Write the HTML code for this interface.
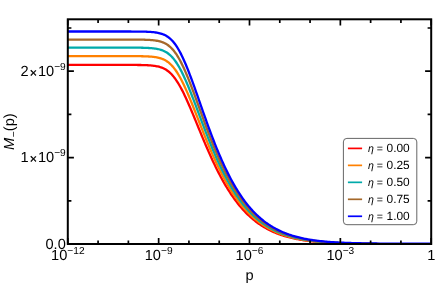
<!DOCTYPE html>
<html><head><meta charset="utf-8"><title>plot</title>
<style>
html,body{margin:0;padding:0;background:#fff;}
svg{display:block;font-family:"Liberation Sans",sans-serif;will-change:transform;text-rendering:geometricPrecision;}
</style></head><body>
<svg width="436" height="284" viewBox="0 0 436 284">
<rect width="436" height="284" fill="#fff"/>
<clipPath id="c"><rect x="67.8" y="19.3" width="363.4" height="224.7"/></clipPath>
<g clip-path="url(#c)" fill="none" stroke-width="2.3" stroke-linejoin="round">
<path d="M67.8,64.90 L68.8,64.90 L69.8,64.90 L70.8,64.90 L71.8,64.90 L72.8,64.90 L73.8,64.90 L74.8,64.90 L75.8,64.90 L76.8,64.90 L77.8,64.90 L78.8,64.90 L79.8,64.90 L80.8,64.90 L81.8,64.90 L82.8,64.90 L83.8,64.90 L84.8,64.90 L85.8,64.90 L86.8,64.90 L87.8,64.90 L88.8,64.90 L89.8,64.90 L90.8,64.90 L91.8,64.90 L92.8,64.90 L93.8,64.90 L94.8,64.90 L95.8,64.90 L96.8,64.90 L97.8,64.90 L98.8,64.90 L99.8,64.90 L100.8,64.90 L101.8,64.90 L102.8,64.90 L103.8,64.90 L104.8,64.90 L105.8,64.90 L106.8,64.90 L107.8,64.90 L108.8,64.90 L109.8,64.90 L110.8,64.90 L111.8,64.90 L112.8,64.90 L113.8,64.90 L114.8,64.90 L115.8,64.90 L116.8,64.90 L117.8,64.90 L118.8,64.90 L119.8,64.91 L120.8,64.91 L121.8,64.91 L122.8,64.91 L123.8,64.91 L124.8,64.91 L125.8,64.91 L126.8,64.91 L127.8,64.92 L128.8,64.92 L129.8,64.92 L130.8,64.93 L131.8,64.93 L132.8,64.94 L133.8,64.94 L134.8,64.95 L135.8,64.96 L136.8,64.97 L137.8,64.98 L138.8,64.99 L139.8,65.01 L140.8,65.02 L141.8,65.05 L142.8,65.07 L143.8,65.10 L144.8,65.13 L145.8,65.17 L146.8,65.21 L147.8,65.26 L148.8,65.32 L149.8,65.38 L150.8,65.46 L151.8,65.55 L152.8,65.66 L153.8,65.78 L154.8,65.91 L155.8,66.07 L156.8,66.26 L157.8,66.47 L158.8,66.71 L159.8,66.98 L160.8,67.29 L161.8,67.65 L162.8,68.05 L163.8,68.51 L164.8,69.02 L165.8,69.59 L166.8,70.23 L167.8,70.94 L168.8,71.72 L169.8,72.59 L170.8,73.53 L171.8,74.56 L172.8,75.68 L173.8,76.89 L174.8,78.18 L175.8,79.57 L176.8,81.04 L177.8,82.60 L178.8,84.24 L179.8,85.97 L180.8,87.77 L181.8,89.65 L182.8,91.59 L183.8,93.61 L184.8,95.68 L185.8,97.81 L186.8,100.00 L187.8,102.22 L188.8,104.49 L189.8,106.80 L190.8,109.14 L191.8,111.50 L192.8,113.89 L193.8,116.30 L194.8,118.72 L195.8,121.14 L196.8,123.58 L197.8,126.02 L198.8,128.45 L199.8,130.88 L200.8,133.30 L201.8,135.72 L202.8,138.11 L203.8,140.50 L204.8,142.86 L205.8,145.21 L206.8,147.53 L207.8,149.83 L208.8,152.10 L209.8,154.34 L210.8,156.56 L211.8,158.75 L212.8,160.90 L213.8,163.03 L214.8,165.12 L215.8,167.17 L216.8,169.20 L217.8,171.18 L218.8,173.14 L219.8,175.06 L220.8,176.94 L221.8,178.78 L222.8,180.59 L223.8,182.37 L224.8,184.10 L225.8,185.80 L226.8,187.47 L227.8,189.10 L228.8,190.69 L229.8,192.24 L230.8,193.76 L231.8,195.25 L232.8,196.70 L233.8,198.12 L234.8,199.50 L235.8,200.85 L236.8,202.16 L237.8,203.45 L238.8,204.70 L239.8,205.92 L240.8,207.10 L241.8,208.26 L242.8,209.38 L243.8,210.48 L244.8,211.55 L245.8,212.58 L246.8,213.59 L247.8,214.57 L248.8,215.53 L249.8,216.45 L250.8,217.36 L251.8,218.23 L252.8,219.08 L253.8,219.91 L254.8,220.71 L255.8,221.49 L256.8,222.25 L257.8,222.98 L258.8,223.69 L259.8,224.38 L260.8,225.05 L261.8,225.70 L262.8,226.33 L263.8,226.94 L264.8,227.53 L265.8,228.10 L266.8,228.66 L267.8,229.20 L268.8,229.72 L269.8,230.22 L270.8,230.71 L271.8,231.18 L272.8,231.64 L273.8,232.09 L274.8,232.51 L275.8,232.93 L276.8,233.33 L277.8,233.72 L278.8,234.09 L279.8,234.46 L280.8,234.81 L281.8,235.14 L282.8,235.47 L283.8,235.79 L284.8,236.09 L285.8,236.39 L286.8,236.67 L287.8,236.95 L288.8,237.22 L289.8,237.47 L290.8,237.72 L291.8,237.96 L292.8,238.19 L293.8,238.41 L294.8,238.63 L295.8,238.84 L296.8,239.04 L297.8,239.23 L298.8,239.42 L299.8,239.59 L300.8,239.77 L301.8,239.94 L302.8,240.10 L303.8,240.26 L304.8,240.41 L305.8,240.56 L306.8,240.70 L307.8,240.84 L308.8,240.97 L309.8,241.10 L310.8,241.22 L311.8,241.34 L312.8,241.45 L313.8,241.56 L314.8,241.67 L315.8,241.77 L316.8,241.87 L317.8,241.96 L318.8,242.05 L319.8,242.14 L320.8,242.22 L321.8,242.30 L322.8,242.38 L323.8,242.46 L324.8,242.53 L325.8,242.60 L326.8,242.67 L327.8,242.73 L328.8,242.79 L329.8,242.85 L330.8,242.91 L331.8,242.97 L332.8,243.02 L333.8,243.07 L334.8,243.12 L335.8,243.17 L336.8,243.21 L337.8,243.26 L338.8,243.30 L339.8,243.34 L340.8,243.38 L341.8,243.42 L342.8,243.45 L343.8,243.49 L344.8,243.52 L345.8,243.56 L346.8,243.59 L347.8,243.62 L348.8,243.65 L349.8,243.67 L350.8,243.70 L351.8,243.73 L352.8,243.75 L353.8,243.77 L354.8,243.80 L355.8,243.82 L356.8,243.84 L357.8,243.86 L358.8,243.88 L359.8,243.90 L360.8,243.92 L361.8,243.93 L362.8,243.94 L363.8,243.96 L364.8,243.97 L365.8,243.98 L366.8,243.99 L367.8,244.00 L368.8,244.01 L369.8,244.02 L370.8,244.03 L371.8,244.04 L372.8,244.05 L373.8,244.06 L374.8,244.07 L375.8,244.07 L376.8,244.08 L377.8,244.09 L378.8,244.09 L379.8,244.10 L380.8,244.11 L381.8,244.11 L382.8,244.12 L383.8,244.12 L384.8,244.13 L385.8,244.13 L386.8,244.13 L387.8,244.14 L388.8,244.14 L389.8,244.15 L390.8,244.15 L391.8,244.15 L392.8,244.16 L393.8,244.16 L394.8,244.16 L395.8,244.16 L396.8,244.17 L397.8,244.17 L398.8,244.17 L399.8,244.17 L400.8,244.18 L401.8,244.18 L402.8,244.18 L403.8,244.18 L404.8,244.18 L405.8,244.18 L406.8,244.19 L407.8,244.19 L408.8,244.19 L409.8,244.19 L410.8,244.19 L411.8,244.19 L412.8,244.19 L413.8,244.19 L414.8,244.19 L415.8,244.20 L416.8,244.20 L417.8,244.20 L418.8,244.20 L419.8,244.20 L420.8,244.20 L421.8,244.20 L422.8,244.20 L423.8,244.20 L424.8,244.20 L425.8,244.20 L426.8,244.20 L427.8,244.20 L428.8,244.20 L429.8,244.20 L430.8,244.20" stroke="#ff0000"/>
<path d="M67.8,56.10 L68.8,56.10 L69.8,56.10 L70.8,56.10 L71.8,56.10 L72.8,56.10 L73.8,56.10 L74.8,56.10 L75.8,56.10 L76.8,56.10 L77.8,56.10 L78.8,56.10 L79.8,56.10 L80.8,56.10 L81.8,56.10 L82.8,56.10 L83.8,56.10 L84.8,56.10 L85.8,56.10 L86.8,56.10 L87.8,56.10 L88.8,56.10 L89.8,56.10 L90.8,56.10 L91.8,56.10 L92.8,56.10 L93.8,56.10 L94.8,56.10 L95.8,56.10 L96.8,56.10 L97.8,56.10 L98.8,56.10 L99.8,56.10 L100.8,56.10 L101.8,56.10 L102.8,56.10 L103.8,56.10 L104.8,56.10 L105.8,56.10 L106.8,56.10 L107.8,56.10 L108.8,56.10 L109.8,56.10 L110.8,56.10 L111.8,56.10 L112.8,56.10 L113.8,56.10 L114.8,56.10 L115.8,56.10 L116.8,56.10 L117.8,56.10 L118.8,56.10 L119.8,56.10 L120.8,56.11 L121.8,56.11 L122.8,56.11 L123.8,56.11 L124.8,56.11 L125.8,56.11 L126.8,56.11 L127.8,56.12 L128.8,56.12 L129.8,56.12 L130.8,56.13 L131.8,56.13 L132.8,56.14 L133.8,56.14 L134.8,56.15 L135.8,56.16 L136.8,56.16 L137.8,56.18 L138.8,56.19 L139.8,56.20 L140.8,56.22 L141.8,56.24 L142.8,56.26 L143.8,56.29 L144.8,56.32 L145.8,56.35 L146.8,56.39 L147.8,56.44 L148.8,56.50 L149.8,56.56 L150.8,56.63 L151.8,56.72 L152.8,56.82 L153.8,56.93 L154.8,57.07 L155.8,57.22 L156.8,57.39 L157.8,57.60 L158.8,57.83 L159.8,58.09 L160.8,58.39 L161.8,58.74 L162.8,59.12 L163.8,59.57 L164.8,60.06 L165.8,60.62 L166.8,61.24 L167.8,61.94 L168.8,62.71 L169.8,63.56 L170.8,64.49 L171.8,65.51 L172.8,66.63 L173.8,67.83 L174.8,69.12 L175.8,70.51 L176.8,71.99 L177.8,73.57 L178.8,75.23 L179.8,76.98 L180.8,78.81 L181.8,80.73 L182.8,82.72 L183.8,84.78 L184.8,86.91 L185.8,89.11 L186.8,91.35 L187.8,93.66 L188.8,96.00 L189.8,98.39 L190.8,100.82 L191.8,103.27 L192.8,105.76 L193.8,108.26 L194.8,110.79 L195.8,113.32 L196.8,115.87 L197.8,118.41 L198.8,120.96 L199.8,123.51 L200.8,126.05 L201.8,128.58 L202.8,131.10 L203.8,133.61 L204.8,136.10 L205.8,138.56 L206.8,141.01 L207.8,143.43 L208.8,145.83 L209.8,148.20 L210.8,150.54 L211.8,152.85 L212.8,155.12 L213.8,157.37 L214.8,159.58 L215.8,161.76 L216.8,163.90 L217.8,166.01 L218.8,168.08 L219.8,170.11 L220.8,172.11 L221.8,174.07 L222.8,175.99 L223.8,177.87 L224.8,179.71 L225.8,181.52 L226.8,183.29 L227.8,185.02 L228.8,186.72 L229.8,188.37 L230.8,189.99 L231.8,191.57 L232.8,193.12 L233.8,194.63 L234.8,196.10 L235.8,197.54 L236.8,198.94 L237.8,200.31 L238.8,201.65 L239.8,202.95 L240.8,204.21 L241.8,205.45 L242.8,206.65 L243.8,207.82 L244.8,208.96 L245.8,210.07 L246.8,211.15 L247.8,212.20 L248.8,213.22 L249.8,214.21 L250.8,215.18 L251.8,216.12 L252.8,217.03 L253.8,217.92 L254.8,218.78 L255.8,219.61 L256.8,220.42 L257.8,221.21 L258.8,221.97 L259.8,222.72 L260.8,223.44 L261.8,224.13 L262.8,224.81 L263.8,225.47 L264.8,226.10 L265.8,226.72 L266.8,227.32 L267.8,227.90 L268.8,228.46 L269.8,229.00 L270.8,229.53 L271.8,230.04 L272.8,230.53 L273.8,231.01 L274.8,231.47 L275.8,231.92 L276.8,232.35 L277.8,232.77 L278.8,233.17 L279.8,233.57 L280.8,233.94 L281.8,234.31 L282.8,234.67 L283.8,235.01 L284.8,235.34 L285.8,235.66 L286.8,235.97 L287.8,236.27 L288.8,236.55 L289.8,236.83 L290.8,237.10 L291.8,237.36 L292.8,237.61 L293.8,237.85 L294.8,238.09 L295.8,238.31 L296.8,238.53 L297.8,238.74 L298.8,238.94 L299.8,239.14 L300.8,239.33 L301.8,239.51 L302.8,239.69 L303.8,239.86 L304.8,240.03 L305.8,240.19 L306.8,240.34 L307.8,240.49 L308.8,240.64 L309.8,240.78 L310.8,240.91 L311.8,241.04 L312.8,241.16 L313.8,241.28 L314.8,241.40 L315.8,241.51 L316.8,241.62 L317.8,241.72 L318.8,241.82 L319.8,241.91 L320.8,242.01 L321.8,242.09 L322.8,242.18 L323.8,242.26 L324.8,242.34 L325.8,242.42 L326.8,242.49 L327.8,242.56 L328.8,242.63 L329.8,242.70 L330.8,242.76 L331.8,242.82 L332.8,242.88 L333.8,242.94 L334.8,242.99 L335.8,243.04 L336.8,243.09 L337.8,243.14 L338.8,243.19 L339.8,243.23 L340.8,243.28 L341.8,243.32 L342.8,243.36 L343.8,243.40 L344.8,243.43 L345.8,243.47 L346.8,243.50 L347.8,243.54 L348.8,243.57 L349.8,243.60 L350.8,243.63 L351.8,243.66 L352.8,243.68 L353.8,243.71 L354.8,243.74 L355.8,243.76 L356.8,243.78 L357.8,243.81 L358.8,243.83 L359.8,243.85 L360.8,243.87 L361.8,243.88 L362.8,243.90 L363.8,243.91 L364.8,243.93 L365.8,243.94 L366.8,243.95 L367.8,243.97 L368.8,243.98 L369.8,243.99 L370.8,244.00 L371.8,244.01 L372.8,244.02 L373.8,244.03 L374.8,244.04 L375.8,244.05 L376.8,244.06 L377.8,244.06 L378.8,244.07 L379.8,244.08 L380.8,244.08 L381.8,244.09 L382.8,244.10 L383.8,244.10 L384.8,244.11 L385.8,244.11 L386.8,244.12 L387.8,244.12 L388.8,244.13 L389.8,244.13 L390.8,244.14 L391.8,244.14 L392.8,244.14 L393.8,244.15 L394.8,244.15 L395.8,244.15 L396.8,244.16 L397.8,244.16 L398.8,244.16 L399.8,244.16 L400.8,244.17 L401.8,244.17 L402.8,244.17 L403.8,244.17 L404.8,244.18 L405.8,244.18 L406.8,244.18 L407.8,244.18 L408.8,244.18 L409.8,244.18 L410.8,244.19 L411.8,244.19 L412.8,244.19 L413.8,244.19 L414.8,244.19 L415.8,244.19 L416.8,244.19 L417.8,244.19 L418.8,244.19 L419.8,244.19 L420.8,244.20 L421.8,244.20 L422.8,244.20 L423.8,244.20 L424.8,244.20 L425.8,244.20 L426.8,244.20 L427.8,244.20 L428.8,244.20 L429.8,244.20 L430.8,244.20" stroke="#ff8000"/>
<path d="M67.8,47.60 L68.8,47.60 L69.8,47.60 L70.8,47.60 L71.8,47.60 L72.8,47.60 L73.8,47.60 L74.8,47.60 L75.8,47.60 L76.8,47.60 L77.8,47.60 L78.8,47.60 L79.8,47.60 L80.8,47.60 L81.8,47.60 L82.8,47.60 L83.8,47.60 L84.8,47.60 L85.8,47.60 L86.8,47.60 L87.8,47.60 L88.8,47.60 L89.8,47.60 L90.8,47.60 L91.8,47.60 L92.8,47.60 L93.8,47.60 L94.8,47.60 L95.8,47.60 L96.8,47.60 L97.8,47.60 L98.8,47.60 L99.8,47.60 L100.8,47.60 L101.8,47.60 L102.8,47.60 L103.8,47.60 L104.8,47.60 L105.8,47.60 L106.8,47.60 L107.8,47.60 L108.8,47.60 L109.8,47.60 L110.8,47.60 L111.8,47.60 L112.8,47.60 L113.8,47.60 L114.8,47.60 L115.8,47.60 L116.8,47.60 L117.8,47.60 L118.8,47.60 L119.8,47.60 L120.8,47.61 L121.8,47.61 L122.8,47.61 L123.8,47.61 L124.8,47.61 L125.8,47.61 L126.8,47.61 L127.8,47.62 L128.8,47.62 L129.8,47.62 L130.8,47.62 L131.8,47.63 L132.8,47.63 L133.8,47.64 L134.8,47.65 L135.8,47.65 L136.8,47.66 L137.8,47.67 L138.8,47.68 L139.8,47.70 L140.8,47.71 L141.8,47.73 L142.8,47.75 L143.8,47.78 L144.8,47.81 L145.8,47.84 L146.8,47.88 L147.8,47.93 L148.8,47.98 L149.8,48.04 L150.8,48.11 L151.8,48.19 L152.8,48.29 L153.8,48.40 L154.8,48.52 L155.8,48.67 L156.8,48.84 L157.8,49.03 L158.8,49.25 L159.8,49.51 L160.8,49.80 L161.8,50.13 L162.8,50.51 L163.8,50.94 L164.8,51.42 L165.8,51.96 L166.8,52.57 L167.8,53.25 L168.8,54.01 L169.8,54.84 L170.8,55.77 L171.8,56.78 L172.8,57.88 L173.8,59.08 L174.8,60.37 L175.8,61.76 L176.8,63.25 L177.8,64.83 L178.8,66.51 L179.8,68.28 L180.8,70.14 L181.8,72.09 L182.8,74.12 L183.8,76.22 L184.8,78.40 L185.8,80.65 L186.8,82.96 L187.8,85.33 L188.8,87.75 L189.8,90.21 L190.8,92.72 L191.8,95.26 L192.8,97.83 L193.8,100.43 L194.8,103.05 L195.8,105.69 L196.8,108.34 L197.8,110.99 L198.8,113.65 L199.8,116.31 L200.8,118.96 L201.8,121.61 L202.8,124.24 L203.8,126.86 L204.8,129.47 L205.8,132.05 L206.8,134.62 L207.8,137.16 L208.8,139.68 L209.8,142.16 L210.8,144.62 L211.8,147.05 L212.8,149.45 L213.8,151.81 L214.8,154.14 L215.8,156.43 L216.8,158.69 L217.8,160.91 L218.8,163.09 L219.8,165.24 L220.8,167.35 L221.8,169.41 L222.8,171.44 L223.8,173.43 L224.8,175.38 L225.8,177.29 L226.8,179.17 L227.8,181.00 L228.8,182.79 L229.8,184.54 L230.8,186.26 L231.8,187.93 L232.8,189.57 L233.8,191.17 L234.8,192.73 L235.8,194.26 L236.8,195.75 L237.8,197.20 L238.8,198.62 L239.8,200.00 L240.8,201.34 L241.8,202.66 L242.8,203.93 L243.8,205.18 L244.8,206.39 L245.8,207.57 L246.8,208.72 L247.8,209.84 L248.8,210.93 L249.8,211.98 L250.8,213.01 L251.8,214.01 L252.8,214.98 L253.8,215.93 L254.8,216.84 L255.8,217.74 L256.8,218.60 L257.8,219.44 L258.8,220.26 L259.8,221.05 L260.8,221.82 L261.8,222.56 L262.8,223.29 L263.8,223.99 L264.8,224.67 L265.8,225.33 L266.8,225.97 L267.8,226.59 L268.8,227.19 L269.8,227.77 L270.8,228.33 L271.8,228.88 L272.8,229.41 L273.8,229.92 L274.8,230.42 L275.8,230.90 L276.8,231.36 L277.8,231.81 L278.8,232.25 L279.8,232.67 L280.8,233.07 L281.8,233.47 L282.8,233.85 L283.8,234.22 L284.8,234.57 L285.8,234.92 L286.8,235.25 L287.8,235.57 L288.8,235.88 L289.8,236.18 L290.8,236.47 L291.8,236.75 L292.8,237.02 L293.8,237.28 L294.8,237.54 L295.8,237.78 L296.8,238.02 L297.8,238.24 L298.8,238.46 L299.8,238.67 L300.8,238.88 L301.8,239.08 L302.8,239.27 L303.8,239.46 L304.8,239.64 L305.8,239.81 L306.8,239.98 L307.8,240.14 L308.8,240.29 L309.8,240.44 L310.8,240.59 L311.8,240.73 L312.8,240.86 L313.8,240.99 L314.8,241.12 L315.8,241.24 L316.8,241.36 L317.8,241.47 L318.8,241.58 L319.8,241.68 L320.8,241.78 L321.8,241.88 L322.8,241.97 L323.8,242.06 L324.8,242.15 L325.8,242.23 L326.8,242.31 L327.8,242.39 L328.8,242.46 L329.8,242.53 L330.8,242.60 L331.8,242.67 L332.8,242.73 L333.8,242.79 L334.8,242.85 L335.8,242.91 L336.8,242.97 L337.8,243.02 L338.8,243.07 L339.8,243.12 L340.8,243.17 L341.8,243.21 L342.8,243.26 L343.8,243.30 L344.8,243.34 L345.8,243.38 L346.8,243.42 L347.8,243.45 L348.8,243.49 L349.8,243.52 L350.8,243.55 L351.8,243.58 L352.8,243.61 L353.8,243.64 L354.8,243.67 L355.8,243.70 L356.8,243.72 L357.8,243.75 L358.8,243.77 L359.8,243.80 L360.8,243.82 L361.8,243.83 L362.8,243.85 L363.8,243.87 L364.8,243.88 L365.8,243.90 L366.8,243.91 L367.8,243.93 L368.8,243.94 L369.8,243.95 L370.8,243.97 L371.8,243.98 L372.8,243.99 L373.8,244.00 L374.8,244.01 L375.8,244.02 L376.8,244.03 L377.8,244.04 L378.8,244.04 L379.8,244.05 L380.8,244.06 L381.8,244.07 L382.8,244.07 L383.8,244.08 L384.8,244.09 L385.8,244.09 L386.8,244.10 L387.8,244.11 L388.8,244.11 L389.8,244.12 L390.8,244.12 L391.8,244.12 L392.8,244.13 L393.8,244.13 L394.8,244.14 L395.8,244.14 L396.8,244.14 L397.8,244.15 L398.8,244.15 L399.8,244.15 L400.8,244.16 L401.8,244.16 L402.8,244.16 L403.8,244.16 L404.8,244.17 L405.8,244.17 L406.8,244.17 L407.8,244.17 L408.8,244.18 L409.8,244.18 L410.8,244.18 L411.8,244.18 L412.8,244.18 L413.8,244.18 L414.8,244.18 L415.8,244.19 L416.8,244.19 L417.8,244.19 L418.8,244.19 L419.8,244.19 L420.8,244.19 L421.8,244.19 L422.8,244.19 L423.8,244.19 L424.8,244.19 L425.8,244.20 L426.8,244.20 L427.8,244.20 L428.8,244.20 L429.8,244.20 L430.8,244.20" stroke="#00aaaa"/>
<path d="M67.8,39.55 L68.8,39.55 L69.8,39.55 L70.8,39.55 L71.8,39.55 L72.8,39.55 L73.8,39.55 L74.8,39.55 L75.8,39.55 L76.8,39.55 L77.8,39.55 L78.8,39.55 L79.8,39.55 L80.8,39.55 L81.8,39.55 L82.8,39.55 L83.8,39.55 L84.8,39.55 L85.8,39.55 L86.8,39.55 L87.8,39.55 L88.8,39.55 L89.8,39.55 L90.8,39.55 L91.8,39.55 L92.8,39.55 L93.8,39.55 L94.8,39.55 L95.8,39.55 L96.8,39.55 L97.8,39.55 L98.8,39.55 L99.8,39.55 L100.8,39.55 L101.8,39.55 L102.8,39.55 L103.8,39.55 L104.8,39.55 L105.8,39.55 L106.8,39.55 L107.8,39.55 L108.8,39.55 L109.8,39.55 L110.8,39.55 L111.8,39.55 L112.8,39.55 L113.8,39.55 L114.8,39.55 L115.8,39.55 L116.8,39.55 L117.8,39.55 L118.8,39.55 L119.8,39.55 L120.8,39.56 L121.8,39.56 L122.8,39.56 L123.8,39.56 L124.8,39.56 L125.8,39.56 L126.8,39.56 L127.8,39.57 L128.8,39.57 L129.8,39.57 L130.8,39.57 L131.8,39.58 L132.8,39.58 L133.8,39.59 L134.8,39.59 L135.8,39.60 L136.8,39.61 L137.8,39.62 L138.8,39.63 L139.8,39.64 L140.8,39.66 L141.8,39.68 L142.8,39.70 L143.8,39.72 L144.8,39.75 L145.8,39.78 L146.8,39.82 L147.8,39.86 L148.8,39.91 L149.8,39.97 L150.8,40.04 L151.8,40.12 L152.8,40.21 L153.8,40.31 L154.8,40.44 L155.8,40.58 L156.8,40.74 L157.8,40.93 L158.8,41.14 L159.8,41.39 L160.8,41.67 L161.8,41.99 L162.8,42.36 L163.8,42.77 L164.8,43.24 L165.8,43.77 L166.8,44.36 L167.8,45.03 L168.8,45.77 L169.8,46.60 L170.8,47.51 L171.8,48.51 L172.8,49.60 L173.8,50.79 L174.8,52.08 L175.8,53.47 L176.8,54.96 L177.8,56.55 L178.8,58.24 L179.8,60.03 L180.8,61.91 L181.8,63.88 L182.8,65.94 L183.8,68.09 L184.8,70.31 L185.8,72.61 L186.8,74.97 L187.8,77.40 L188.8,79.88 L189.8,82.41 L190.8,84.99 L191.8,87.61 L192.8,90.27 L193.8,92.95 L194.8,95.66 L195.8,98.39 L196.8,101.13 L197.8,103.89 L198.8,106.64 L199.8,109.40 L200.8,112.16 L201.8,114.92 L202.8,117.66 L203.8,120.39 L204.8,123.10 L205.8,125.80 L206.8,128.48 L207.8,131.13 L208.8,133.76 L209.8,136.36 L210.8,138.93 L211.8,141.47 L212.8,143.98 L213.8,146.45 L214.8,148.89 L215.8,151.30 L216.8,153.66 L217.8,155.99 L218.8,158.28 L219.8,160.53 L220.8,162.75 L221.8,164.92 L222.8,167.05 L223.8,169.14 L224.8,171.19 L225.8,173.20 L226.8,175.17 L227.8,177.10 L228.8,178.98 L229.8,180.83 L230.8,182.64 L231.8,184.40 L232.8,186.13 L233.8,187.82 L234.8,189.46 L235.8,191.07 L236.8,192.64 L237.8,194.17 L238.8,195.67 L239.8,197.13 L240.8,198.55 L241.8,199.94 L242.8,201.29 L243.8,202.60 L244.8,203.88 L245.8,205.13 L246.8,206.35 L247.8,207.53 L248.8,208.68 L249.8,209.80 L250.8,210.89 L251.8,211.95 L252.8,212.98 L253.8,213.98 L254.8,214.95 L255.8,215.90 L256.8,216.81 L257.8,217.71 L258.8,218.57 L259.8,219.41 L260.8,220.23 L261.8,221.02 L262.8,221.79 L263.8,222.53 L264.8,223.26 L265.8,223.96 L266.8,224.64 L267.8,225.30 L268.8,225.94 L269.8,226.56 L270.8,227.16 L271.8,227.74 L272.8,228.30 L273.8,228.85 L274.8,229.38 L275.8,229.89 L276.8,230.38 L277.8,230.86 L278.8,231.33 L279.8,231.78 L280.8,232.21 L281.8,232.63 L282.8,233.04 L283.8,233.43 L284.8,233.81 L285.8,234.18 L286.8,234.54 L287.8,234.88 L288.8,235.21 L289.8,235.54 L290.8,235.85 L291.8,236.15 L292.8,236.44 L293.8,236.72 L294.8,236.99 L295.8,237.25 L296.8,237.50 L297.8,237.74 L298.8,237.98 L299.8,238.21 L300.8,238.43 L301.8,238.64 L302.8,238.85 L303.8,239.05 L304.8,239.24 L305.8,239.43 L306.8,239.61 L307.8,239.78 L308.8,239.95 L309.8,240.11 L310.8,240.27 L311.8,240.42 L312.8,240.56 L313.8,240.70 L314.8,240.84 L315.8,240.97 L316.8,241.09 L317.8,241.21 L318.8,241.33 L319.8,241.44 L320.8,241.55 L321.8,241.66 L322.8,241.76 L323.8,241.85 L324.8,241.95 L325.8,242.04 L326.8,242.12 L327.8,242.21 L328.8,242.29 L329.8,242.37 L330.8,242.44 L331.8,242.51 L332.8,242.58 L333.8,242.65 L334.8,242.71 L335.8,242.78 L336.8,242.84 L337.8,242.89 L338.8,242.95 L339.8,243.00 L340.8,243.05 L341.8,243.10 L342.8,243.15 L343.8,243.20 L344.8,243.24 L345.8,243.28 L346.8,243.32 L347.8,243.36 L348.8,243.40 L349.8,243.44 L350.8,243.47 L351.8,243.51 L352.8,243.54 L353.8,243.57 L354.8,243.60 L355.8,243.63 L356.8,243.66 L357.8,243.69 L358.8,243.71 L359.8,243.74 L360.8,243.76 L361.8,243.78 L362.8,243.80 L363.8,243.82 L364.8,243.84 L365.8,243.85 L366.8,243.87 L367.8,243.89 L368.8,243.90 L369.8,243.91 L370.8,243.93 L371.8,243.94 L372.8,243.95 L373.8,243.97 L374.8,243.98 L375.8,243.99 L376.8,244.00 L377.8,244.01 L378.8,244.02 L379.8,244.03 L380.8,244.04 L381.8,244.04 L382.8,244.05 L383.8,244.06 L384.8,244.07 L385.8,244.07 L386.8,244.08 L387.8,244.09 L388.8,244.09 L389.8,244.10 L390.8,244.10 L391.8,244.11 L392.8,244.11 L393.8,244.12 L394.8,244.12 L395.8,244.13 L396.8,244.13 L397.8,244.14 L398.8,244.14 L399.8,244.14 L400.8,244.15 L401.8,244.15 L402.8,244.15 L403.8,244.15 L404.8,244.16 L405.8,244.16 L406.8,244.16 L407.8,244.16 L408.8,244.17 L409.8,244.17 L410.8,244.17 L411.8,244.17 L412.8,244.17 L413.8,244.18 L414.8,244.18 L415.8,244.18 L416.8,244.18 L417.8,244.18 L418.8,244.18 L419.8,244.19 L420.8,244.19 L421.8,244.19 L422.8,244.19 L423.8,244.19 L424.8,244.19 L425.8,244.19 L426.8,244.19 L427.8,244.19 L428.8,244.19 L429.8,244.19 L430.8,244.19" stroke="#a5682a"/>
<path d="M67.8,31.50 L68.8,31.50 L69.8,31.50 L70.8,31.50 L71.8,31.50 L72.8,31.50 L73.8,31.50 L74.8,31.50 L75.8,31.50 L76.8,31.50 L77.8,31.50 L78.8,31.50 L79.8,31.50 L80.8,31.50 L81.8,31.50 L82.8,31.50 L83.8,31.50 L84.8,31.50 L85.8,31.50 L86.8,31.50 L87.8,31.50 L88.8,31.50 L89.8,31.50 L90.8,31.50 L91.8,31.50 L92.8,31.50 L93.8,31.50 L94.8,31.50 L95.8,31.50 L96.8,31.50 L97.8,31.50 L98.8,31.50 L99.8,31.50 L100.8,31.50 L101.8,31.50 L102.8,31.50 L103.8,31.50 L104.8,31.50 L105.8,31.50 L106.8,31.50 L107.8,31.50 L108.8,31.50 L109.8,31.50 L110.8,31.50 L111.8,31.50 L112.8,31.50 L113.8,31.50 L114.8,31.50 L115.8,31.50 L116.8,31.50 L117.8,31.50 L118.8,31.50 L119.8,31.50 L120.8,31.50 L121.8,31.51 L122.8,31.51 L123.8,31.51 L124.8,31.51 L125.8,31.51 L126.8,31.51 L127.8,31.51 L128.8,31.52 L129.8,31.52 L130.8,31.52 L131.8,31.53 L132.8,31.53 L133.8,31.54 L134.8,31.54 L135.8,31.55 L136.8,31.56 L137.8,31.57 L138.8,31.58 L139.8,31.59 L140.8,31.60 L141.8,31.62 L142.8,31.64 L143.8,31.66 L144.8,31.69 L145.8,31.72 L146.8,31.76 L147.8,31.80 L148.8,31.85 L149.8,31.90 L150.8,31.97 L151.8,32.05 L152.8,32.13 L153.8,32.23 L154.8,32.35 L155.8,32.49 L156.8,32.64 L157.8,32.82 L158.8,33.03 L159.8,33.27 L160.8,33.54 L161.8,33.85 L162.8,34.21 L163.8,34.61 L164.8,35.07 L165.8,35.58 L166.8,36.17 L167.8,36.82 L168.8,37.55 L169.8,38.36 L170.8,39.25 L171.8,40.24 L172.8,41.32 L173.8,42.51 L174.8,43.79 L175.8,45.18 L176.8,46.67 L177.8,48.26 L178.8,49.96 L179.8,51.76 L180.8,53.66 L181.8,55.66 L182.8,57.75 L183.8,59.93 L184.8,62.19 L185.8,64.53 L186.8,66.95 L187.8,69.43 L188.8,71.97 L189.8,74.57 L190.8,77.23 L191.8,79.92 L192.8,82.65 L193.8,85.42 L194.8,88.22 L195.8,91.04 L196.8,93.87 L197.8,96.72 L198.8,99.58 L199.8,102.44 L200.8,105.30 L201.8,108.16 L202.8,111.01 L203.8,113.85 L204.8,116.67 L205.8,119.48 L206.8,122.27 L207.8,125.03 L208.8,127.77 L209.8,130.49 L210.8,133.17 L211.8,135.82 L212.8,138.44 L213.8,141.03 L214.8,143.58 L215.8,146.09 L216.8,148.57 L217.8,151.00 L218.8,153.40 L219.8,155.76 L220.8,158.08 L221.8,160.35 L222.8,162.59 L223.8,164.78 L224.8,166.93 L225.8,169.04 L226.8,171.11 L227.8,173.13 L228.8,175.11 L229.8,177.05 L230.8,178.95 L231.8,180.81 L232.8,182.62 L233.8,184.39 L234.8,186.13 L235.8,187.82 L236.8,189.47 L237.8,191.09 L238.8,192.66 L239.8,194.20 L240.8,195.70 L241.8,197.16 L242.8,198.58 L243.8,199.97 L244.8,201.32 L245.8,202.64 L246.8,203.92 L247.8,205.17 L248.8,206.38 L249.8,207.57 L250.8,208.72 L251.8,209.84 L252.8,210.92 L253.8,211.98 L254.8,213.01 L255.8,214.01 L256.8,214.98 L257.8,215.93 L258.8,216.84 L259.8,217.73 L260.8,218.60 L261.8,219.44 L262.8,220.25 L263.8,221.04 L264.8,221.81 L265.8,222.55 L266.8,223.27 L267.8,223.97 L268.8,224.65 L269.8,225.31 L270.8,225.94 L271.8,226.56 L272.8,227.16 L273.8,227.74 L274.8,228.30 L275.8,228.85 L276.8,229.37 L277.8,229.88 L278.8,230.38 L279.8,230.86 L280.8,231.32 L281.8,231.77 L282.8,232.20 L283.8,232.62 L284.8,233.03 L285.8,233.42 L286.8,233.80 L287.8,234.17 L288.8,234.52 L289.8,234.86 L290.8,235.20 L291.8,235.52 L292.8,235.83 L293.8,236.13 L294.8,236.41 L295.8,236.69 L296.8,236.96 L297.8,237.22 L298.8,237.48 L299.8,237.72 L300.8,237.95 L301.8,238.17 L302.8,238.39 L303.8,238.59 L304.8,238.79 L305.8,238.99 L306.8,239.17 L307.8,239.35 L308.8,239.52 L309.8,239.69 L310.8,239.85 L311.8,240.00 L312.8,240.15 L313.8,240.29 L314.8,240.43 L315.8,240.56 L316.8,240.69 L317.8,240.81 L318.8,240.93 L319.8,241.05 L320.8,241.15 L321.8,241.26 L322.8,241.36 L323.8,241.46 L324.8,241.55 L325.8,241.64 L326.8,241.73 L327.8,241.81 L328.8,241.89 L329.8,241.97 L330.8,242.04 L331.8,242.11 L332.8,242.18 L333.8,242.24 L334.8,242.30 L335.8,242.36 L336.8,242.42 L337.8,242.48 L338.8,242.53 L339.8,242.58 L340.8,242.63 L341.8,242.67 L342.8,242.72 L343.8,242.76 L344.8,242.80 L345.8,242.84 L346.8,242.88 L347.8,242.91 L348.8,242.95 L349.8,242.98 L350.8,243.01 L351.8,243.04 L352.8,243.07 L353.8,243.09 L354.8,243.12 L355.8,243.14 L356.8,243.17 L357.8,243.19 L358.8,243.21 L359.8,243.23 L360.8,243.25 L361.8,243.28 L362.8,243.30 L363.8,243.32 L364.8,243.34 L365.8,243.36 L366.8,243.37 L367.8,243.39 L368.8,243.41 L369.8,243.42 L370.8,243.44 L371.8,243.45 L372.8,243.47 L373.8,243.48 L374.8,243.49 L375.8,243.51 L376.8,243.52 L377.8,243.53 L378.8,243.54 L379.8,243.55 L380.8,243.56 L381.8,243.57 L382.8,243.58 L383.8,243.59 L384.8,243.59 L385.8,243.60 L386.8,243.61 L387.8,243.62 L388.8,243.62 L389.8,243.63 L390.8,243.64 L391.8,243.64 L392.8,243.65 L393.8,243.65 L394.8,243.66 L395.8,243.66 L396.8,243.67 L397.8,243.67 L398.8,243.68 L399.8,243.68 L400.8,243.68 L401.8,243.69 L402.8,243.69 L403.8,243.69 L404.8,243.70 L405.8,243.70 L406.8,243.70 L407.8,243.71 L408.8,243.71 L409.8,243.71 L410.8,243.71 L411.8,243.72 L412.8,243.72 L413.8,243.72 L414.8,243.72 L415.8,243.72 L416.8,243.72 L417.8,243.73 L418.8,243.73 L419.8,243.73 L420.8,243.73 L421.8,243.73 L422.8,243.73 L423.8,243.73 L424.8,243.74 L425.8,243.74 L426.8,243.74 L427.8,243.74 L428.8,243.74 L429.8,243.74 L430.8,243.74" stroke="#0000ff"/>
</g>
<path d="M67.80,244.0v-6.1M67.80,19.3v6.1M98.08,244.0v-3.6M98.08,19.3v3.6M128.37,244.0v-3.6M128.37,19.3v3.6M158.65,244.0v-6.1M158.65,19.3v6.1M188.93,244.0v-3.6M188.93,19.3v3.6M219.22,244.0v-3.6M219.22,19.3v3.6M249.50,244.0v-6.1M249.50,19.3v6.1M279.78,244.0v-3.6M279.78,19.3v3.6M310.07,244.0v-3.6M310.07,19.3v3.6M340.35,244.0v-6.1M340.35,19.3v6.1M370.63,244.0v-3.6M370.63,19.3v3.6M400.92,244.0v-3.6M400.92,19.3v3.6M431.20,244.0v-6.1M431.20,19.3v6.1M67.8,244.00h6.1M431.2,244.00h-6.1M67.8,200.80h3.6M431.2,200.80h-3.6M67.8,157.60h6.1M431.2,157.60h-6.1M67.8,114.40h3.6M431.2,114.40h-3.6M67.8,71.20h6.1M431.2,71.20h-6.1M67.8,28.00h3.6M431.2,28.00h-3.6" stroke="#000" stroke-width="1.7" fill="none"/>
<rect x="67.8" y="19.3" width="363.4" height="224.7" fill="none" stroke="#000" stroke-width="2"/>
<g font-size="14.6" fill="#000">
<text x="67.80" y="260" text-anchor="middle">10<tspan dy="-5.6" font-size="10.2">−12</tspan></text>
<text x="158.65" y="260" text-anchor="middle">10<tspan dy="-5.6" font-size="10.2">−9</tspan></text>
<text x="249.50" y="260" text-anchor="middle">10<tspan dy="-5.6" font-size="10.2">−6</tspan></text>
<text x="340.35" y="260" text-anchor="middle">10<tspan dy="-5.6" font-size="10.2">−3</tspan></text>
<text x="431.2" y="260" text-anchor="middle">1</text>
<text x="65.8" y="249" text-anchor="end">0.0</text>
<text x="65.8" y="162" text-anchor="end">1<tspan dx="1" dy="0.7" font-size="12.4" stroke="#000" stroke-width="0.35">×</tspan><tspan dx="1" dy="-0.7">10</tspan><tspan dy="-5.6" font-size="10.2">−9</tspan></text>
<text x="65.8" y="76" text-anchor="end">2<tspan dx="1" dy="0.7" font-size="12.4" stroke="#000" stroke-width="0.35">×</tspan><tspan dx="1" dy="-0.7">10</tspan><tspan dy="-5.6" font-size="10.2">−9</tspan></text>
<text x="249.5" y="280" text-anchor="middle" font-size="14.6">p</text>
<text transform="translate(13.9,131.7) rotate(-90)" text-anchor="middle"><tspan font-style="italic">M</tspan><tspan dx="0.6" dy="3.4" font-size="10.3">−</tspan><tspan dy="-3.4">(p)</tspan></text>
</g>
<rect x="343.4" y="138.4" width="73.4" height="86.3" rx="3.5" ry="3.5" fill="#fff" stroke="#555" stroke-width="0.9"/>
<g fill="#000">
<path d="M347.9,148.40H362.1" stroke="#ff0000" stroke-width="1.7" fill="none"/>
<text x="368" y="151.70" font-size="10.6"><tspan font-style="italic">η</tspan> = <tspan dx="0.6" font-size="11.9">0.00</tspan></text>
<path d="M347.9,165.37H362.1" stroke="#ff8000" stroke-width="1.7" fill="none"/>
<text x="368" y="168.70" font-size="10.6"><tspan font-style="italic">η</tspan> = <tspan dx="0.6" font-size="11.9">0.25</tspan></text>
<path d="M347.9,182.34H362.1" stroke="#00aaaa" stroke-width="1.7" fill="none"/>
<text x="368" y="185.70" font-size="10.6"><tspan font-style="italic">η</tspan> = <tspan dx="0.6" font-size="11.9">0.50</tspan></text>
<path d="M347.9,199.31H362.1" stroke="#a5682a" stroke-width="1.7" fill="none"/>
<text x="368" y="202.70" font-size="10.6"><tspan font-style="italic">η</tspan> = <tspan dx="0.6" font-size="11.9">0.75</tspan></text>
<path d="M347.9,216.28H362.1" stroke="#0000ff" stroke-width="1.7" fill="none"/>
<text x="368" y="219.70" font-size="10.6"><tspan font-style="italic">η</tspan> = <tspan dx="0.6" font-size="11.9">1.00</tspan></text>
</g>
</svg>
</body></html>
